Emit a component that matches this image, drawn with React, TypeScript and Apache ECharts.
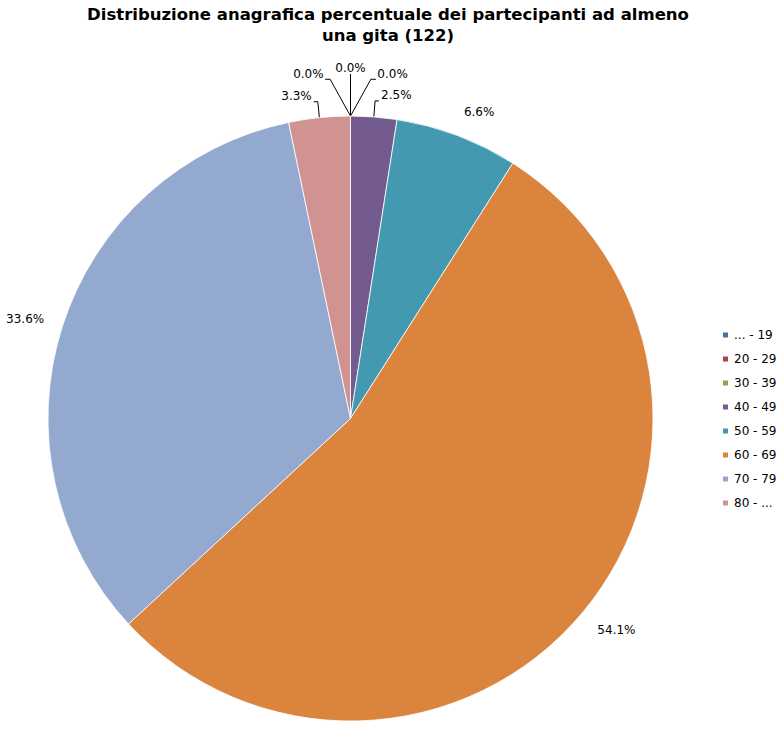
import React, { useEffect, useRef } from 'react';
import * as echarts from 'echarts';

const categories = ['... - 19', '20 - 29', '30 - 39', '40 - 49', '50 - 59', '60 - 69', '70 - 79', '80 - ...'];
const participants = [0, 0, 0, 3, 8, 66, 41, 4];
const sliceColors = ['#4572A7', '#AA4643', '#89A54E', '#735A8F', '#4399AF', '#DB843D', '#94A9D0', '#D19392'];
const titleLines = ['Distribuzione anagrafica percentuale dei partecipanti ad almeno', 'una gita'];

const CX = 350.5;
const CY = 418.5;
const R = 302.5;
const FONT = "'DejaVu Sans', Verdana, sans-serif";

export default function App() {
  const ref = useRef<HTMLDivElement>(null);
  useEffect(() => {
    if (!ref.current) return;
    const chart = echarts.init(ref.current, null, { renderer: 'svg' });
    const total = participants.reduce((a, b) => a + b, 0);
    const mids: number[] = [];
    let acc = 0;
    participants.forEach((v) => {
      mids.push(((acc + v / 2) / total) * Math.PI * 2);
      acc += v;
    });
    const zeroIdx = participants.map((v, i) => (v === 0 ? i : -1)).filter((i) => i >= 0);

    const labelLayout = (p: any) => {
      const i = p.dataIndex;
      const v = participants[i];
      const share = v / total;
      const th = mids[i];
      const ux = Math.sin(th);
      const uy = -Math.cos(th);
      const px = CX + R * ux;
      const py = CY + R * uy;
      const w = p.labelRect.width;
      const h = p.labelRect.height;
      if (v === 0) {
        const k = zeroIdx.indexOf(i) - (zeroIdx.length - 1) / 2;
        const phi = th + (k * 29 * Math.PI) / 180;
        const ex = px + 42 * Math.sin(phi);
        const ey = py - 42 * Math.cos(phi);
        const dir = Math.sign(k);
        if (dir === 0) {
          return {
            x: ex,
            y: ey - 6.5,
            align: 'center',
            verticalAlign: 'middle',
            labelLinePoints: [[px, py], [ex, ey], [ex, ey]],
          };
        }
        const endX = ex + dir * 5;
        return {
          x: endX + dir * 1.5,
          y: ey - 5,
          align: dir > 0 ? 'left' : 'right',
          verticalAlign: 'middle',
          labelLinePoints: [[px, py], [ex, ey], [endX, ey]],
        };
      }
      if (share < 0.05) {
        const ex = CX + (R + 16) * ux;
        const ey = CY + (R + 16) * uy;
        const dir = ux >= 0 ? 1 : -1;
        const endX = ex + dir * 4;
        return {
          x: endX + dir * 2,
          y: ey - 6,
          align: dir > 0 ? 'left' : 'right',
          verticalAlign: 'middle',
          labelLinePoints: [[px, py], [ex, ey], [endX, ey]],
        };
      }
      const ax = CX + (R + 19) * ux;
      const ay = CY + (R + 19) * uy;
      const fy = Math.min(1, Math.pow(Math.abs(uy) / 0.6, 2));
      return {
        x: ax + (Math.sign(ux) * w) / 2,
        y: ay + ((Math.sign(uy) * h) / 2) * fy,
        align: 'center',
        verticalAlign: 'middle',
      };
    };

    chart.setOption({
      animation: false,
      backgroundColor: '#ffffff',
      color: sliceColors,
      title: {
        text: titleLines[0] + '\n' + titleLines[1] + ' (' + total + ')',
        left: 388,
        top: 3.5,
        padding: 0,
        textAlign: 'center',
        textStyle: {
          fontFamily: FONT,
          fontSize: 16.5,
          fontWeight: 'bold',
          color: '#000000',
          lineHeight: 21,
        },
      },
      legend: {
        orient: 'vertical',
        left: 721,
        top: 328,
        padding: 0,
        itemWidth: 7,
        itemHeight: 7,
        itemGap: 10,
        icon: 'rect',
        data: categories,
        selectedMode: false,
        textStyle: { fontFamily: FONT, fontSize: 12, color: '#000000', lineHeight: 14 },
      },
      series: [
        {
          type: 'pie',
          center: [CX, CY],
          radius: R,
          startAngle: 90,
          clockwise: true,
          avoidLabelOverlap: false,
          emphasis: { disabled: true },
          itemStyle: { borderColor: '#ffffff', borderWidth: 0.8 },
          label: {
            show: true,
            position: 'outside',
            formatter: (p: any) => ((participants[p.dataIndex] / total) * 100).toFixed(1) + '%',
            fontFamily: FONT,
            fontSize: 12,
            color: '#000000',
          },
          labelLine: { show: true, lineStyle: { color: '#000000', width: 1 } },
          labelLayout,
          data: categories.map((name, i) => ({
            name,
            value: participants[i],
            labelLine: { show: participants[i] / total < 0.05 },
          })),
        },
      ],
    });
    return () => chart.dispose();
  }, []);
  return (
    <div
      ref={ref}
      style={{ position: 'absolute', left: 0, top: 0, width: 782, height: 743 }}
    />
  );
}
